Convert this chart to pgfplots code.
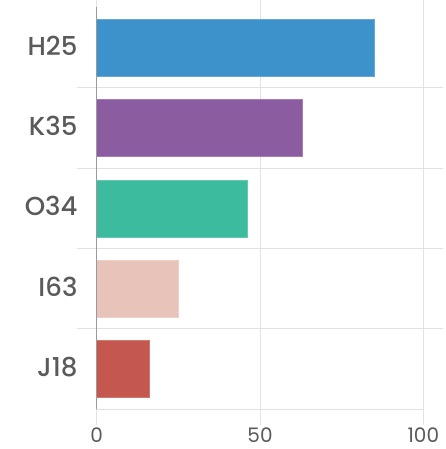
\documentclass[border=0pt]{standalone}
\usepackage{pgfplots}
\pgfplotsset{compat=1.18}
\usepackage{fontspec}
\setmainfont{Poppins}
\newfontfamily\labfont{Poppins Medium}
\definecolor{gridc}{HTML}{E2E2E2}
\definecolor{zeroc}{HTML}{9A9A9A}
\definecolor{txt}{HTML}{5A5A5A}
\definecolor{cH}{HTML}{3E92CC}
\definecolor{cK}{HTML}{8C5CA0}
\definecolor{cO}{HTML}{3DBB9E}
\definecolor{cI}{HTML}{E8C3BA}
\definecolor{cJ}{HTML}{C4584F}
\begin{document}
\begin{tikzpicture}
\useasboundingbox (-96.7pt,-39.7pt) rectangle (349.3pt,409.3pt);
\begin{axis}[
  scale only axis,
  width=326.6pt, height=402pt,
  at={(0,0)}, anchor=south west,
  xmin=0, xmax=100, ymin=-0.5, ymax=4.5,
  xtick={0,50,100},
  ytick={0,1,2,3,4},
  yticklabels={J18,I63,O34,K35,H25},
  minor ytick={0.5,1.5,2.5,3.5},
  xmajorgrids, yminorgrids,
  grid style={gridc, line width=0.9pt},
  axis line style={draw=none},
  tick align=outside,
  major tick length=16pt,
  minor tick length=20pt,
  major x tick style={gridc, line width=0.9pt},
  major y tick style={draw=none},
  minor y tick style={gridc, line width=0.9pt},
  /pgf/number format/assume math mode=true,
  xticklabel style={font=\fontsize{20}{20}\selectfont, text=txt, inner sep=0pt, yshift=-2pt},
  yticklabel style={font=\labfont\fontsize{26}{26}\selectfont, text=txt, inner sep=0pt, anchor=east, xshift=-3pt, yshift=2pt},
  clip=false,
]
\draw[gridc, line width=0.9pt] (axis cs:0,-0.5) -- (axis cs:100,-0.5);
\addplot[xbar, bar width=0.71, bar shift=0pt, fill=cH, draw=cH!80!white] coordinates {(85,4)};
\addplot[xbar, bar width=0.71, bar shift=0pt, fill=cK, draw=cK!80!white] coordinates {(63,3)};
\addplot[xbar, bar width=0.71, bar shift=0pt, fill=cO, draw=cO!80!white] coordinates {(46,2)};
\addplot[xbar, bar width=0.71, bar shift=0pt, fill=cI, draw=cI!80!white] coordinates {(25,1)};
\addplot[xbar, bar width=0.71, bar shift=0pt, fill=cJ, draw=cJ!80!white] coordinates {(16,0)};
\draw[zeroc, line width=1pt] (axis cs:0,4.5) -- (axis cs:0,-0.5) -- ++(0,-16pt);
\end{axis}
\end{tikzpicture}
\end{document}
